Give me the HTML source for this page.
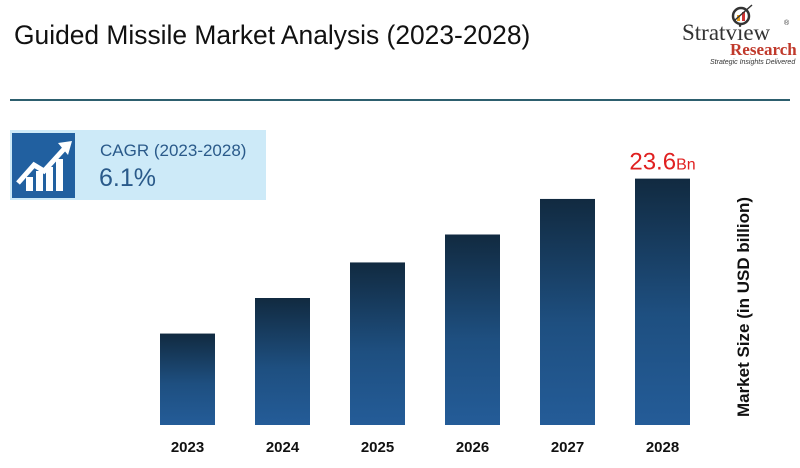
<!DOCTYPE html>
<html><head><meta charset="utf-8"><style>
body{margin:0;width:800px;height:468px;background:#fff;overflow:hidden;font-family:"Liberation Sans",sans-serif;position:relative}
.abs{position:absolute}
</style></head><body>
<div class="abs" style="left:14px;top:20px;font-size:26.4px;color:#111;white-space:nowrap">Guided Missile Market Analysis (2023-2028)</div>
<div class="abs" style="left:680px;top:4px;width:118px;height:62px">
<svg width="118" height="62"><circle cx="61" cy="12" r="8" fill="none" stroke="#333" stroke-width="2.5"/><rect x="57" y="11" width="3" height="6" fill="#e8a020"/><rect x="62" y="8" width="3" height="9" fill="#c33"/><line x1="55" y1="16" x2="72" y2="1" stroke="#333" stroke-width="1.5"/></svg>
<div class="abs" style="left:2px;top:16px;font-family:'Liberation Serif',serif;font-size:23px;color:#333">Stratview</div>
<div class="abs" style="left:104px;top:16px;font-size:7px;color:#333">®</div>
<div class="abs" style="left:50px;top:36px;font-family:'Liberation Serif',serif;font-weight:bold;font-size:17px;color:#c0392b">Research</div>
<div class="abs" style="left:30px;top:55px;font-size:7px;font-style:italic;color:#333;white-space:nowrap">Strategic Insights Delivered</div>
</div>
<div class="abs" style="left:10px;top:99px;width:780px;height:2px;background:#2d5f6e"></div>
<div class="abs" style="left:10px;top:130px;width:256px;height:70px;background:#cdeaf8"></div>
<div class="abs" style="left:12px;top:133px;width:63px;height:65px;background:#2160a0">
<svg width="63" height="65"><g fill="#fff"><rect x="14" y="44" width="7" height="14"/><rect x="24" y="38" width="7" height="20"/><rect x="34" y="34" width="7" height="24"/><rect x="44" y="26" width="7" height="32"/></g><polyline points="6,50 22,32 32,38 52,16" fill="none" stroke="#fff" stroke-width="5"/><polygon points="46,10 60,8 56,22" fill="#fff"/></svg></div>
<div class="abs" style="left:100px;top:141px;font-size:17px;color:#2a5a8a">CAGR (2023-2028)</div>
<div class="abs" style="left:99px;top:164px;font-size:25px;color:#2a5a8a">6.1%</div>
<div class="abs" style="left:744px;top:307px;transform:translate(-50%,-50%) rotate(-90deg);font-size:17px;font-weight:bold;color:#111;white-space:nowrap">Market Size (in USD billion)</div>
<svg id="chart" class="abs" style="left:0;top:0" width="800" height="468">
<defs><linearGradient id="g" x1="0" y1="0" x2="0" y2="1"><stop offset="0" stop-color="#112a40"/><stop offset="0.55" stop-color="#1e4f80"/><stop offset="1" stop-color="#245c98"/></linearGradient></defs>
</svg>
<script>
const categories=["2023","2024","2025","2026","2027","2028"];
const values=[17.5,18.9,20.3,21.4,22.8,23.6];
const labels=["","","","","","23.6"];
const svg=document.getElementById('chart');
const NS='http://www.w3.org/2000/svg';
const base=425,vmin=13.9,k=25.4;
function y(v){return base-(v-vmin)*k;}
function x(i){return 160+i*95;}
const bw=55;
categories.forEach((c,i)=>{
 const r=document.createElementNS(NS,'rect');
 r.setAttribute('x',x(i));r.setAttribute('y',y(values[i]));r.setAttribute('width',bw);r.setAttribute('height',base-y(values[i]));r.setAttribute('fill','url(#g)');
 
 
 svg.appendChild(r);
 const t=document.createElementNS(NS,'text');
 t.setAttribute('x',x(i)+bw/2);t.setAttribute('y',452);t.setAttribute('text-anchor','middle');t.setAttribute('font-size','15');t.setAttribute('font-weight','bold');t.setAttribute('fill','#111');t.setAttribute('font-family','Liberation Sans, sans-serif');t.textContent=c;
 
 
 svg.appendChild(t);
 if(labels[i]){
  const l=document.createElementNS(NS,'text');
  l.setAttribute('x',x(i)+bw/2);l.setAttribute('y',y(values[i])-9);l.setAttribute('text-anchor','middle');l.setAttribute('fill','#e02020');l.setAttribute('font-family','Liberation Sans, sans-serif');
  l.innerHTML='<tspan font-size="24">'+labels[i]+'</tspan><tspan font-size="16">Bn</tspan>';
  
  
  svg.appendChild(l);
 }
});
</script>
</body></html>
